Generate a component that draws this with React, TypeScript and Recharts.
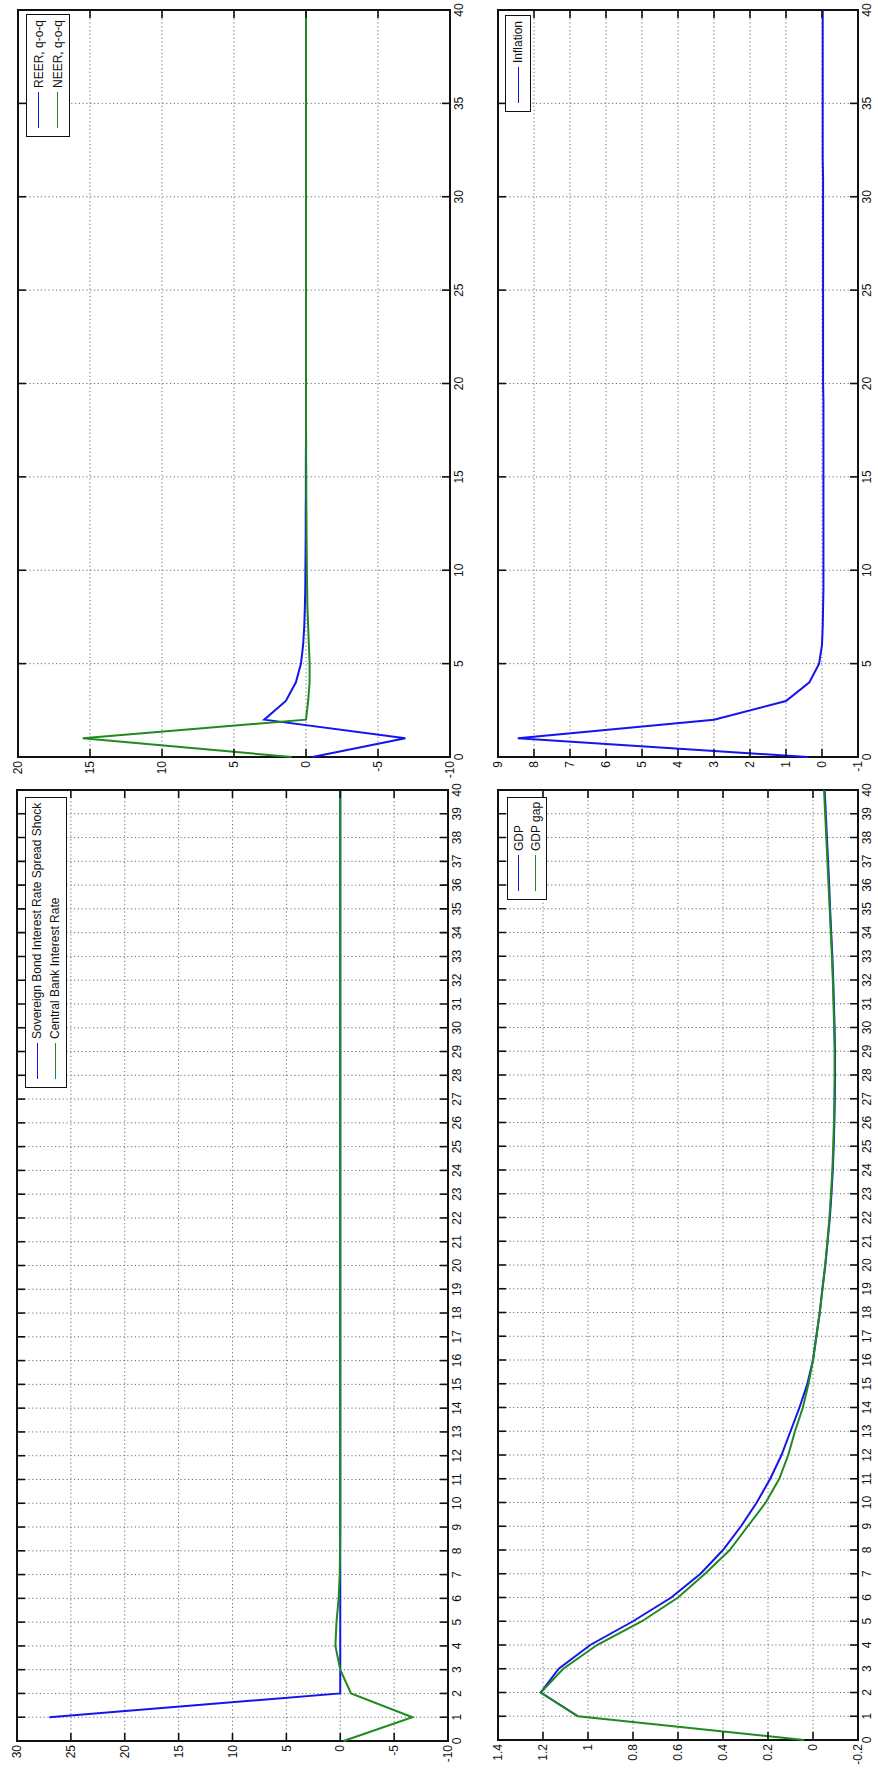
import React from 'react'
import { LineChart, Line, XAxis, YAxis, CartesianGrid, ReferenceArea, Legend } from 'recharts'

// quarters after the shock
const periods = [
  0, 1, 2, 3, 4, 5, 6, 7, 8, 9, 10, 11, 12, 13, 14, 15, 16, 17, 18, 19, 20,
  21, 22, 23, 24, 25, 26, 27, 28, 29, 30, 31, 32, 33, 34, 35, 36, 37, 38, 39, 40,
]

const sovereignSpread = [
  null, 27, 0, 0, 0, 0, 0, 0, 0, 0, 0, 0, 0, 0, 0, 0, 0, 0, 0, 0, 0,
  0, 0, 0, 0, 0, 0, 0, 0, 0, 0, 0, 0, 0, 0, 0, 0, 0, 0, 0, 0,
]
const centralBankRate = [
  -0.3, -6.7, -1.0, 0, 0.45, 0.35, 0.15, 0.05, 0.02, 0, 0, 0, 0, 0, 0, 0, 0, 0, 0, 0, 0,
  0, 0, 0, 0, 0, 0, 0, 0, 0, 0, 0, 0, 0, 0, 0, 0, 0, 0, 0, 0,
]

const reer = [
  -0.45, -6.9, 2.9, 1.4, 0.7, 0.35, 0.2, 0.12, 0.08, 0.05, 0.04, 0.03, 0.02, 0.02, 0.01, 0.01, 0.01, 0, 0, 0, 0,
  0, 0, 0, 0, 0, 0, 0, 0, 0, 0, 0, 0, 0, 0, 0, 0, 0, 0, 0, 0,
]
const neer = [
  1.0, 15.5, 0.0, -0.15, -0.25, -0.25, -0.2, -0.15, -0.1, -0.08, -0.06, -0.05, -0.04, -0.03, -0.02, -0.02, -0.01, -0.01, 0, 0, 0,
  0, 0, 0, 0, 0, 0, 0, 0, 0, 0, 0, 0, 0, 0, 0, 0, 0, 0, 0, 0,
]

const gdp = [
  null, 1.045, 1.21, 1.13, 0.99, 0.8, 0.63, 0.5, 0.4, 0.32, 0.25, 0.19, 0.14, 0.1, 0.06, 0.025, 0.0, -0.015, -0.03, -0.042, -0.055,
  -0.065, -0.075, -0.082, -0.088, -0.092, -0.095, -0.097, -0.098, -0.098, -0.096, -0.093, -0.09, -0.086, -0.081, -0.076, -0.072, -0.067, -0.062, -0.057, -0.052,
]
const gdpGap = [
  0.04, 1.045, 1.21, 1.11, 0.96, 0.76, 0.6, 0.48, 0.37, 0.29, 0.21, 0.15, 0.11, 0.08, 0.045, 0.02, 0.0, -0.015, -0.03, -0.042, -0.054,
  -0.064, -0.073, -0.08, -0.086, -0.09, -0.093, -0.095, -0.096, -0.096, -0.094, -0.091, -0.088, -0.084, -0.079, -0.074, -0.069, -0.064, -0.059, -0.054, -0.049,
]

const inflation = [
  0.4, 8.45, 3.0, 1.0, 0.35, 0.08, 0.0, -0.02, -0.03, -0.04, -0.04, -0.04, -0.04, -0.04, -0.04, -0.04, -0.04, -0.04, -0.04, -0.04, -0.03,
  -0.03, -0.03, -0.03, -0.03, -0.03, -0.03, -0.03, -0.03, -0.03, -0.03, -0.03, -0.02, -0.02, -0.02, -0.02, -0.02, -0.02, -0.02, -0.02, -0.02,
]

const everyQuarter = periods
const everyFive = [0, 5, 10, 15, 20, 25, 30, 35, 40]
const spreadTicks = [-10, -5, 0, 5, 10, 15, 20, 25, 30]
const reerTicks = [-10, -5, 0, 5, 10, 15, 20]
const gdpTicks = [-0.2, 0, 0.2, 0.4, 0.6, 0.8, 1, 1.2, 1.4]
const inflationTicks = [-1, 0, 1, 2, 3, 4, 5, 6, 7, 8, 9]

const BLUE = '#1414ee'
const GREEN = '#1f8a1f'
const FONT = '"Liberation Sans", Arial, Helvetica, sans-serif'
const TICK_LEN = 8
const X_GAP = 3
const Y_GAP = 4

const fmt = (v: number) => String(Math.round(v * 10) / 10)

const xTick = (plotH: number) => (props: any) => {
  const { x, y, payload } = props
  const axisY = y - X_GAP
  return (
    <g>
      <line x1={x} y1={axisY} x2={x} y2={axisY - TICK_LEN} stroke="#111" strokeWidth={1.6} />
      <line x1={x} y1={axisY - plotH} x2={x} y2={axisY - plotH + TICK_LEN} stroke="#111" strokeWidth={1.6} />
      <text x={x} y={y} dy="0.8em" textAnchor="middle" fontSize={12} fontFamily={FONT} fill="#111">
        {fmt(payload.value)}
      </text>
    </g>
  )
}

const yTick = (plotW: number) => (props: any) => {
  const { x, y, payload } = props
  const axisX = x + Y_GAP
  return (
    <g>
      <line x1={axisX} y1={y} x2={axisX + TICK_LEN} y2={y} stroke="#111" strokeWidth={1.6} />
      <line x1={axisX + plotW} y1={y} x2={axisX + plotW - TICK_LEN} y2={y} stroke="#111" strokeWidth={1.6} />
      <text x={x} y={y} dy="0.35em" textAnchor="end" fontSize={12} fontFamily={FONT} fill="#111">
        {fmt(payload.value)}
      </text>
    </g>
  )
}

interface Series {
  key: string
  name: string
  color: string
}

// legend drawn in the series order (recharts would sort it by name)
const legendBox = (series: Series[], width: number, rowH: number) => () => (
  <div style={{ width, boxSizing: 'border-box', border: '1.6px solid #111', background: '#fff', padding: '2px 0' }}>
    {series.map((s) => (
      <div key={s.key} style={{ display: 'flex', alignItems: 'center', height: rowH }}>
        <div style={{ width: 36, marginLeft: 8, borderTop: `1.6px solid ${s.color}` }} />
        <span style={{ marginLeft: 4, fontSize: 12, fontFamily: FONT, color: '#111', whiteSpace: 'nowrap' }}>
          {s.name}
        </span>
      </div>
    ))}
  </div>
)

interface PanelProps {
  left: number
  top: number
  width: number
  height: number
  marginTop: number
  marginRight: number
  yWidth: number
  xHeight: number
  data: any[]
  series: Series[]
  yDomain: [number, number]
  yTicks: number[]
  xTicks: number[]
  legend: { left: number; top: number; width: number; rowH: number }
}

const Panel = (p: PanelProps) => {
  const plotW = p.width - p.marginRight - p.yWidth
  const plotH = p.height - p.marginTop - p.xHeight
  return (
    <div style={{ position: 'absolute', left: p.left, top: p.top }}>
      <LineChart
        width={p.width}
        height={p.height}
        data={p.data}
        margin={{ top: p.marginTop, right: p.marginRight, left: 0, bottom: 0 }}
      >
        <CartesianGrid stroke="#6f6f6f" strokeDasharray="1.2 2.6" />
        <XAxis
          dataKey="t"
          type="number"
          domain={[0, 40]}
          ticks={p.xTicks}
          interval={0}
          height={p.xHeight}
          tickSize={0}
          tickMargin={X_GAP}
          axisLine={false}
          tickLine={false}
          tick={xTick(plotH)}
        />
        <YAxis
          type="number"
          domain={p.yDomain}
          ticks={p.yTicks}
          interval={0}
          width={p.yWidth}
          tickSize={0}
          tickMargin={Y_GAP}
          axisLine={false}
          tickLine={false}
          tick={yTick(plotW)}
          allowDataOverflow
        />
        <ReferenceArea
          x1={0}
          x2={40}
          y1={p.yDomain[0]}
          y2={p.yDomain[1]}
          fill="none"
          stroke="#111"
          strokeWidth={2}
        />
        {p.series.map((s) => (
          <Line
            key={s.key}
            type="linear"
            dataKey={s.key}
            name={s.name}
            stroke={s.color}
            strokeWidth={2}
            dot={false}
            activeDot={false}
            isAnimationActive={false}
          />
        ))}
        <Legend
          layout="vertical"
          verticalAlign="middle"
          align="center"
          wrapperStyle={{ left: p.legend.left, top: p.legend.top, width: p.legend.width }}
          content={legendBox(p.series, p.legend.width, p.legend.rowH)}
        />
      </LineChart>
    </div>
  )
}

const spreadData = periods.map((t, i) => ({ t, spread: sovereignSpread[i], policy: centralBankRate[i] }))
const fxData = periods.map((t, i) => ({ t, reer: reer[i], neer: neer[i] }))
const gdpData = periods.map((t, i) => ({ t, gdp: gdp[i], gap: gdpGap[i] }))
const inflationData = periods.map((t, i) => ({ t, infl: inflation[i] }))

export default function App() {
  return (
    <div style={{ position: 'absolute', left: 0, top: 0, width: 878, height: 1776, overflow: 'hidden', background: '#fff' }}>
      {/* the figure was drawn landscape and then turned a quarter turn counter-clockwise */}
      <div
        style={{
          position: 'absolute',
          left: 0,
          top: 0,
          width: 1776,
          height: 878,
          transformOrigin: '0 0',
          transform: 'translateY(1776px) rotate(-90deg)',
        }}
      >
        <Panel
          left={0}
          top={0}
          width={1000}
          height={490}
          marginTop={17}
          marginRight={14}
          yWidth={35}
          xHeight={42}
          data={spreadData}
          series={[
            { key: 'spread', name: 'Sovereign Bond Interest Rate Spread Shock', color: BLUE },
            { key: 'policy', name: 'Central Bank Interest Rate', color: GREEN },
          ]}
          yDomain={[-10, 30]}
          yTicks={spreadTicks}
          xTicks={everyQuarter}
          legend={{ left: 688, top: 25, width: 291, rowH: 18 }}
        />
        <Panel
          left={990}
          top={0}
          width={786}
          height={490}
          marginTop={18}
          marginRight={10}
          yWidth={29}
          xHeight={40}
          data={fxData}
          series={[
            { key: 'reer', name: 'REER, q-o-q', color: BLUE },
            { key: 'neer', name: 'NEER, q-o-q', color: GREEN },
          ]}
          yDomain={[-10, 20]}
          yTicks={reerTicks}
          xTicks={everyFive}
          legend={{ left: 649, top: 26, width: 123, rowH: 19 }}
        />
        <Panel
          left={0}
          top={490}
          width={1000}
          height={388}
          marginTop={8}
          marginRight={14}
          yWidth={36}
          xHeight={20}
          data={gdpData}
          series={[
            { key: 'gdp', name: 'GDP', color: BLUE },
            { key: 'gap', name: 'GDP gap', color: GREEN },
          ]}
          yDomain={[-0.2, 1.4]}
          yTicks={gdpTicks}
          xTicks={everyQuarter}
          legend={{ left: 876, top: 17, width: 103, rowH: 17 }}
        />
        <Panel
          left={990}
          top={490}
          width={786}
          height={388}
          marginTop={8}
          marginRight={10}
          yWidth={29}
          xHeight={20}
          data={inflationData}
          series={[{ key: 'infl', name: 'Inflation', color: BLUE }]}
          yDomain={[-1, 9]}
          yTicks={inflationTicks}
          xTicks={everyFive}
          legend={{ left: 674, top: 15, width: 97, rowH: 20 }}
        />
      </div>
    </div>
  )
}
